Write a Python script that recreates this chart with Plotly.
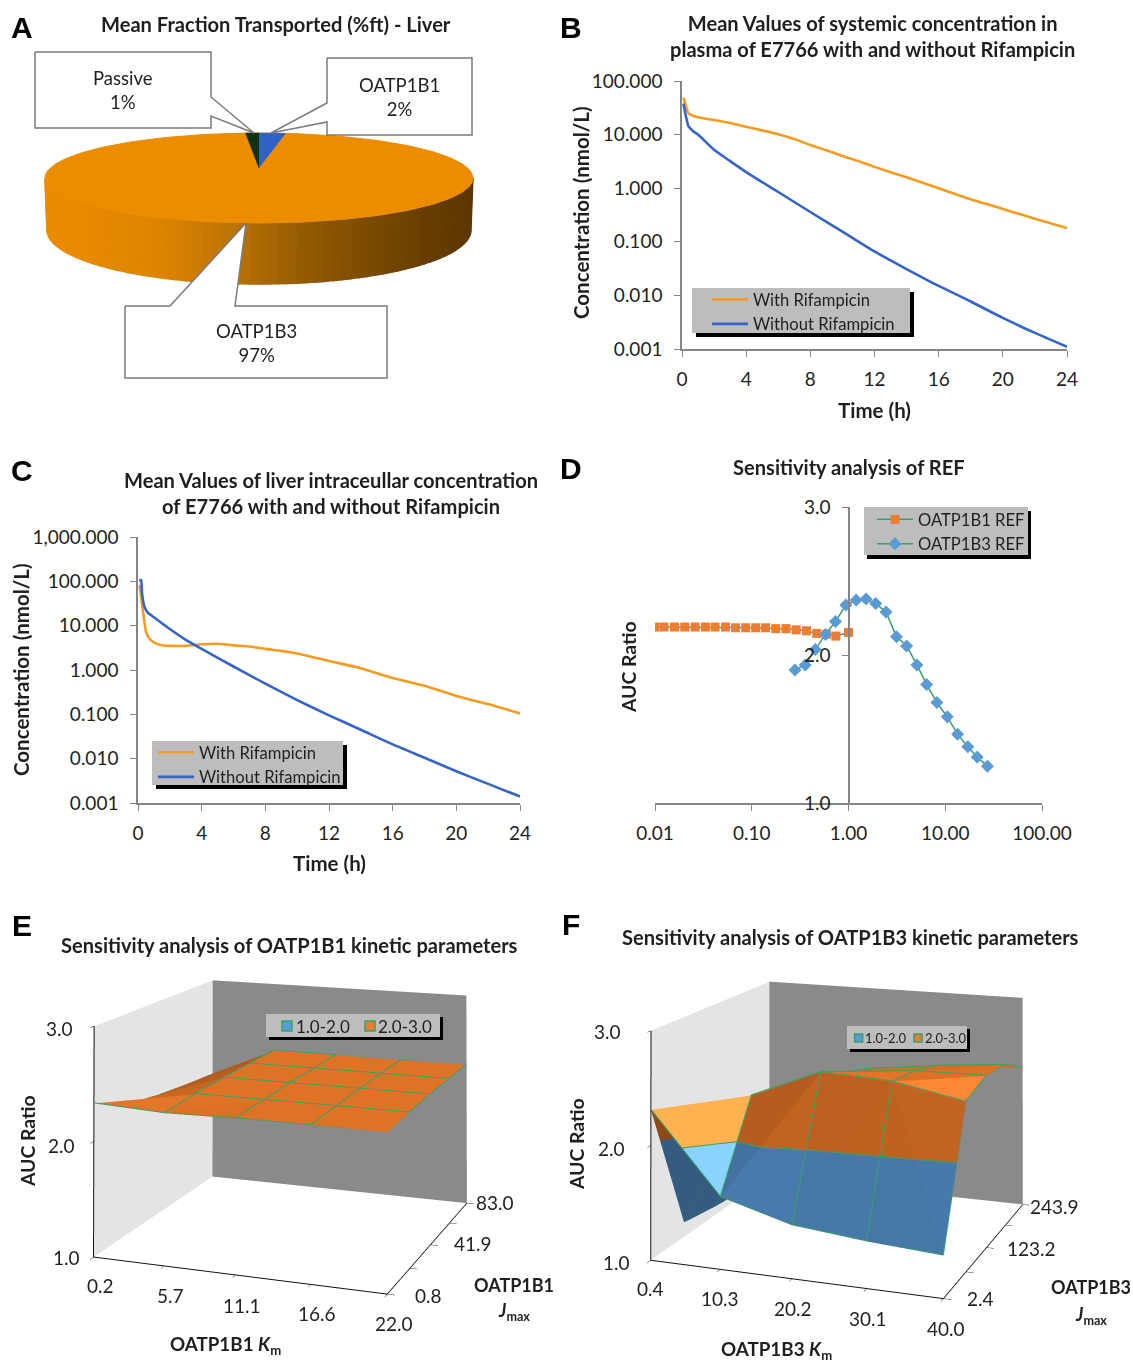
import numpy as np
import plotly.graph_objects as go

W, H = 1133, 1360
FONT = "Lato"
INK = "#1f1f1f"
AXC = "#858585"
ORANGE = "#f79a1e"
BLUE = "#3565c9"
GREEN = "#35a26a"

# ---------- data ----------
pie_labels = ["OATP1B1", "OATP1B3", "Passive"]
pie_values = [2, 97, 1]

b_t_with = [0.1, 0.2, 0.4, 0.7, 1, 2, 3, 4, 5, 6, 7, 8, 9, 10, 11, 12, 14, 16, 18, 20, 22, 24]
b_with = [49, 38, 25, 22.5, 21, 18.7, 16.5, 14, 12, 10.2, 8.3, 6.4, 5.1, 4, 3.2, 2.5, 1.6, 1.0, 0.62, 0.41, 0.27, 0.18]
b_t_without = [0.1, 0.15, 0.25, 0.4, 0.7, 1, 2, 3, 4, 6, 8, 10, 12, 14, 16, 18, 20, 22, 24]
b_without = [38, 30, 21.6, 14.4, 11.6, 10, 5.2, 3.2, 2.0, 0.85, 0.36, 0.155, 0.066, 0.031, 0.015, 0.0077, 0.0038, 0.002, 0.0011]

c_t_with = [0.05, 0.1, 0.3, 0.5, 0.7, 1, 1.5, 2, 3, 4, 5, 6, 7, 8, 9, 10, 12, 14, 16, 18, 20, 22, 24]
c_with = [80, 78, 23, 7.4, 5.2, 4.2, 3.6, 3.5, 3.5, 3.8, 3.9, 3.6, 3.4, 3.0, 2.7, 2.35, 1.6, 1.1, 0.66, 0.44, 0.26, 0.17, 0.105]
c_t_without = [0.1, 0.2, 0.25, 0.4, 0.6, 1, 2, 3, 4, 6, 8, 10, 12, 14, 16, 18, 20, 22, 24]
c_without = [100, 108, 55, 27, 20, 15.5, 8.4, 4.8, 3.0, 1.2, 0.49, 0.21, 0.095, 0.045, 0.021, 0.0105, 0.0052, 0.0027, 0.0014]

d_x_1b1 = [0.010, 0.0124, 0.0159, 0.0203, 0.026, 0.0332, 0.0418, 0.0535, 0.0678, 0.0866, 0.110, 0.139, 0.177, 0.226, 0.288, 0.368, 0.47, 0.59, 0.74, 1.0]
d_y_1b1 = [2.189, 2.189, 2.189, 2.189, 2.189, 2.189, 2.189, 2.189, 2.184, 2.184, 2.184, 2.184, 2.178, 2.178, 2.17, 2.164, 2.146, 2.14, 2.128, 2.153]
d_x_1b3 = [0.28, 0.357, 0.453, 0.579, 0.734, 0.94, 1.2, 1.52, 1.91, 2.44, 3.13, 3.99, 5.1, 6.42, 8.2, 10.5, 13.4, 17.1, 21.4, 27.3]
d_y_1b3 = [1.899, 1.933, 2.038, 2.139, 2.227, 2.337, 2.371, 2.378, 2.348, 2.29, 2.124, 2.061, 1.933, 1.8, 1.679, 1.582, 1.465, 1.38, 1.31, 1.249]

e_km = [0.2, 5.7, 11.1, 16.6, 22.0]
e_jmax = [0.8, 21.4, 41.9, 62.5, 83.0]
e_z = [[2.33, 2.30, 2.31, 2.31, 2.31],
       [2.18, 2.32, 2.32, 2.32, 2.32],
       [2.12, 2.33, 2.33, 2.33, 2.33],
       [2.08, 2.33, 2.33, 2.33, 2.33],
       [2.05, 2.33, 2.33, 2.33, 2.33]]

f_km = [0.4, 10.3, 20.2, 30.1, 40.0]
f_jmax = [2.4, 63.0, 123.2, 183.5, 243.9]
f_z = [[2.31, 1.62, 1.45, 1.39, 1.35],
       [1.13, 2.34, 2.60, 2.57, 2.45],
       [1.08, 2.20, 2.46, 2.52, 2.53],
       [1.05, 2.20, 2.35, 2.43, 2.49],
       [1.05, 2.10, 2.19, 2.28, 2.32]]


# ---------- helpers ----------
def px(x):
    return x / W


def py(y):
    return 1 - y / H


def dom_x(a, b):
    return [a / W, b / W]


def dom_y(top, bottom):
    return [1 - bottom / H, 1 - top / H]


annotations = []


def text(s, x, y, size=18.5, bold=False, angle=0, family=FONT, color=INK):
    if bold:
        s = "<b>" + s.replace("<br>", "</b><br><b>") + "</b>"
    annotations.append(dict(text=s, x=px(x), y=py(y), xref="paper", yref="paper", showarrow=False,
                            xanchor="center", yanchor="middle", textangle=angle,
                            font=dict(family=family, size=size, color=color)))


shapes = []


def legend_box(x0, y0, x1, y1, dx=4, dy=4):
    shapes.append(dict(type="rect", xref="paper", yref="paper", x0=px(x0 + dx), x1=px(x1 + dx), y0=py(y0 + dy), y1=py(y1 + dy),
                       fillcolor="#000", line_width=0, layer="above"))
    shapes.append(dict(type="rect", xref="paper", yref="paper", x0=px(x0), x1=px(x1), y0=py(y0), y1=py(y1),
                       fillcolor="#bdbdbd", line_width=0, layer="above"))


def swatch(x, y, color, s=5):
    shapes.append(dict(type="rect", xref="paper", yref="paper", x0=px(x - s), x1=px(x + s), y0=py(y - s), y1=py(y + s),
                       fillcolor=color, line=dict(color=GREEN, width=1.5), layer="above"))


fig = go.Figure()

# ---------- A: pie drawn on a hidden pixel-scale axis ----------
CX, CY, RX, RY = 259, 178, 214, 45
AX_, AY_ = 259, 168
CX2, CY2, RX2, RY2 = 259, 230, 212, 54
stops_x = [45, 82, 160, 230, 300, 400, 473]
stops_c = [(234, 139, 0), (234, 139, 0), (222, 132, 0), (190, 117, 6), (150, 92, 3), (112, 68, 0), (92, 55, 0)]


def side_color(x):
    return "rgb(%d,%d,%d)" % tuple(np.interp(x, stops_x, [c[k] for c in stops_c]) for k in range(3))


side_angles = np.linspace(0, np.pi, 71)
for a0, a1 in zip(side_angles[:-1], side_angles[1:]):
    xs = [CX + RX * np.cos(a0), CX + RX * np.cos(a1), CX2 + RX2 * np.cos(a1), CX2 + RX2 * np.cos(a0)]
    ys = [CY + RY * np.sin(a0), CY + RY * np.sin(a1), CY2 + RY2 * np.sin(a1), CY2 + RY2 * np.sin(a0)]
    col = side_color(sum(xs) / 4)
    fig.add_trace(go.Scatter(x=xs, y=ys, fill="toself", fillcolor=col, mode="lines", line=dict(color=col, width=1.6),
                             hoverinfo="skip", showlegend=False))
th = np.linspace(0, 2 * np.pi, 241)
fig.add_trace(go.Scatter(x=CX + RX * np.cos(th), y=CY + RY * np.sin(th), fill="toself", fillcolor="#ec8d00", mode="lines",
                         line=dict(color="#ec8d00", width=1), hoverinfo="skip", showlegend=False))
pie_colors = {"OATP1B1": "#2f62c4", "Passive": "#0d3312"}
start = 0.0
for name, val in zip(pie_labels, pie_values):
    end = start + val / sum(pie_values) * 2 * np.pi
    if name in pie_colors:
        t = np.linspace(start, end, 12)
        fig.add_trace(go.Scatter(x=np.r_[AX_, CX + RX * np.sin(t)], y=np.r_[AY_, CY - RY * np.cos(t)], fill="toself",
                                 fillcolor=pie_colors[name], mode="lines", line=dict(color=pie_colors[name], width=0.5),
                                 hoverinfo="skip", showlegend=False))
    start = end

callouts = [
    ([35, 211, 211, 254, 211, 211, 35, 35], [52, 52, 97, 133, 116, 128, 128, 52]),
    ([327, 472, 472, 327, 327, 271, 327, 327], [58, 58, 135, 135, 122, 133, 103, 58]),
    ([125, 170, 246, 235, 387, 387, 125, 125], [306, 306, 223, 306, 306, 378, 378, 306]),
]
for xs, ys in callouts:
    fig.add_trace(go.Scatter(x=xs, y=ys, fill="toself", fillcolor="white", mode="lines", line=dict(color="#7b7b7b", width=1.5),
                             hoverinfo="skip", showlegend=False))
text("Passive<br>1%", 123, 90)
text("OATP1B1<br>2%", 399, 97)
text("OATP1B3<br>97%", 256, 343)

# ---------- B, C, D ----------
LW = 2.6


def curve(color):
    return dict(color=color, width=LW, shape="spline", smoothing=0.5)


fig.add_trace(go.Scatter(x=b_t_with, y=b_with, name="With Rifampicin", mode="lines", line=curve(ORANGE),
                         xaxis="x2", yaxis="y2", legend="legend"))
fig.add_trace(go.Scatter(x=b_t_without, y=b_without, name="Without Rifampicin", mode="lines", line=curve(BLUE),
                         xaxis="x2", yaxis="y2", legend="legend"))
fig.add_trace(go.Scatter(x=c_t_with, y=c_with, name="With Rifampicin", mode="lines", line=curve(ORANGE),
                         xaxis="x3", yaxis="y3", legend="legend2"))
fig.add_trace(go.Scatter(x=c_t_without, y=c_without, name="Without Rifampicin", mode="lines", line=curve(BLUE),
                         xaxis="x3", yaxis="y3", legend="legend2"))
fig.add_trace(go.Scatter(x=d_x_1b1, y=d_y_1b1, name="OATP1B1 REF", mode="lines+markers", line=dict(color=GREEN, width=1.5),
                         marker=dict(symbol="square", size=9, color="#ed7d31"), xaxis="x4", yaxis="y4", legend="legend3"))
fig.add_trace(go.Scatter(x=d_x_1b3, y=d_y_1b3, name="OATP1B3 REF", mode="lines+markers", line=dict(color=GREEN, width=1.5),
                         marker=dict(symbol="diamond", size=10, color="#5b9bd5"), xaxis="x4", yaxis="y4", legend="legend3"))

legend_box(692, 288, 910, 333)
legend_box(152, 741, 343, 785)
legend_box(864, 507, 1028, 555, 3, 4)


# ---------- E, F ----------
def clip_tri(pts, level):
    """split a triangle at z=level; returns polygons below, above and the crossing segment"""
    below, above, cross = [], [], []
    n = len(pts)
    for a in range(n):
        p, q = pts[a], pts[(a + 1) % n]
        (below if p[2] <= level else above).append(p)
        if (p[2] - level) * (q[2] - level) < 0:
            s = (level - p[2]) / (q[2] - p[2])
            c = tuple(p[m] + s * (q[m] - p[m]) for m in range(3))
            below.append(c)
            above.append(c)
            cross.append(c)
    return below, above, cross


BASE_O = np.array([221, 114, 38.0])
BASE_B = np.array([82, 140, 195.0])


def shade(tri, base, sx, sy, sz):
    a, b, c = [np.array(p) * [sx, sy, sz] for p in tri]
    n = np.cross(b - a, c - a)
    if n[2] < 0:
        n = -n
    n = n / (np.linalg.norm(n) + 1e-9)
    f = float(np.interp(n[0], [-0.7, -0.31, 0.14, 0.33, 0.66], [0.65, 0.8, 0.88, 0.97, 1.3]))
    f += 0.15 * max(n[2] - 0.3, 0) / 0.7
    col = base * f
    if f > 1:
        col = col + (f - 1) * 100
    return "rgb(%d,%d,%d)" % tuple(np.clip(col, 0, 255))


def add_surface(kms, js, zs, scene, anti=(), skip_first_col=False):
    xi = np.arange(len(kms))
    sx = 1 / (kms[-1] - kms[0])
    sy = 1 / (js[-1] - js[0])
    vx, vy, vz, I, J, K, cols = [], [], [], [], [], [], []
    lx, ly, lz = [], [], []

    def seg(pts):
        for p in pts:
            lx.append(p[0]); ly.append(p[1]); lz.append(p[2] + 0.006)
        lx.append(None); ly.append(None); lz.append(None)

    def add_poly(poly, tri, base):
        if len(poly) < 3:
            return
        col = shade(tri, base, sx, sy, 0.75)
        i0 = len(vx)
        for p in poly:
            vx.append(p[0]); vy.append(p[1]); vz.append(p[2])
        for m in range(1, len(poly) - 1):
            I.append(i0); J.append(i0 + m); K.append(i0 + m + 1); cols.append(col)

    for r in range(len(js) - 1):
        for c in range(len(kms) - 1):
            p00 = (kms[c], js[r], zs[r][c])
            p10 = (kms[c + 1], js[r], zs[r][c + 1])
            p01 = (kms[c], js[r + 1], zs[r + 1][c])
            p11 = (kms[c + 1], js[r + 1], zs[r + 1][c + 1])
            tris = [(p00, p10, p01), (p10, p11, p01)] if (c, r) in anti else [(p00, p10, p11), (p00, p11, p01)]
            for tri in tris:
                lo, hi, cross = clip_tri(list(tri), 2.0)
                add_poly(lo, tri, BASE_B)
                add_poly(hi, tri, BASE_O)
                if len(cross) == 2:
                    seg(cross)
    for r in range(len(js)):
        first = 1 if (skip_first_col and r > 0) else 0
        seg([(kms[c], js[r], zs[r][c]) for c in xi[first:]])
    for c in xi[1 if skip_first_col else 0:]:
        seg([(kms[c], js[r], zs[r][c]) for r in range(len(js))])
    fig.add_trace(go.Mesh3d(x=vx, y=vy, z=vz, i=I, j=J, k=K, facecolor=cols, flatshading=True, scene=scene,
                            lighting=dict(ambient=1, diffuse=0, specular=0, fresnel=0, roughness=1), showscale=False, hoverinfo="skip"))
    fig.add_trace(go.Scatter3d(x=lx, y=ly, z=lz, mode="lines", line=dict(color=GREEN, width=2), scene=scene, showlegend=False,
                               hoverinfo="skip"))


add_surface(e_km, e_jmax, e_z, "scene", skip_first_col=True)
add_surface(f_km, f_jmax, f_z, "scene2", anti={(3, 0)})


def scene_cfg(kms, js, dom, eye, center):
    ax = dict(showgrid=False, zeroline=False, showspikes=False, showline=True, linecolor="#111", linewidth=2, ticks="outside",
              ticklen=6, tickcolor="#111", showticklabels=False, title=dict(text=""), showbackground=True)
    return dict(domain=dict(x=dom, y=[0, 1]), aspectmode="manual", aspectratio=dict(x=0.8, y=0.8, z=0.6),
                camera=dict(eye=eye, center=center, up=dict(x=0, y=0, z=1), projection=dict(type="perspective")),
                xaxis=dict(ax, range=[kms[0], kms[-1]], tickvals=kms, backgroundcolor="#e4e4e4"),
                yaxis=dict(ax, range=[js[0], js[-1]], tickvals=js, backgroundcolor="#8a8a8a"),
                zaxis=dict(ax, range=[1, 3], tickvals=[1, 2, 3], backgroundcolor="#ffffff"))


# ---------- 3D tick labels ----------
TK = 19
for s, x, y in [("3.0", 59, 1028), ("2.0", 61, 1145), ("1.0", 66, 1257)]:
    text(s, x, y, TK)
for v, x, y in zip(e_km, [100, 170, 242, 317, 394], [1285, 1295, 1305, 1313, 1323]):
    text("%.1f" % v, x, y, TK)
for v, x, y in zip([e_jmax[0], e_jmax[2], e_jmax[4]], [428, 473, 495], [1295, 1243, 1202]):
    text("%.1f" % v, x, y, TK)
for s, x, y in [("3.0", 607, 1031), ("2.0", 611, 1148), ("1.0", 616, 1262)]:
    text(s, x, y, TK)
for v, x, y in zip(f_km, [650, 720, 793, 868, 946], [1288, 1298, 1308, 1318, 1328]):
    text("%.1f" % v, x, y, TK)
for v, x, y in zip([f_jmax[0], f_jmax[2], f_jmax[4]], [980, 1031, 1054], [1298, 1248, 1206]):
    text("%.1f" % v, x, y, TK)

# ---------- E/F legends ----------
legend_box(266, 1014, 440, 1037, 3, 3)
swatch(287, 1026, "#5b9bd5"); swatch(370, 1026, "#ed7d31")
text("1.0-2.0", 323, 1026, 17); text("2.0-3.0", 405, 1026, 17)
legend_box(847, 1026, 967, 1049, 3, 3)
swatch(858.6, 1038, "#5b9bd5", 4); swatch(918, 1038, "#ed7d31", 4)
text("1.0-2.0", 886, 1038, 13); text("2.0-3.0", 945.6, 1038, 13)

# ---------- titles ----------
T = 20.1
A = 20.5
LET = 30
for s, x, y in [("A", 22, 27), ("B", 571, 27), ("C", 22, 470), ("D", 571, 468), ("E", 22, 925), ("F", 571, 924)]:
    text(s, x, y, LET, True, family="Liberation Sans", color="#000")
text("Mean Fraction Transported (%ft) - Liver", 276, 24, T, True)
text("Mean Values of systemic concentration in<br>plasma of E7766 with and without Rifampicin", 872, 36, T, True)
text("Mean Values of liver intraceullar concentration<br>of E7766 with and without Rifampicin", 331, 493, T, True)
text("Sensitivity analysis of REF", 849, 467, T, True)
text("Sensitivity analysis of OATP1B1 kinetic parameters", 289, 945, T, True)
text("Sensitivity analysis of OATP1B3 kinetic parameters", 850, 937, T, True)
text("Concentration (nmol/L)", 581, 213, A, True, -90)
text("Time (h)", 874, 410, A, True)
text("Concentration (nmol/L)", 21, 670, A, True, -90)
text("Time (h)", 329, 863, A, True)
text("AUC Ratio", 628, 667, 19.4, True, -90)
text("AUC Ratio", 27, 1141, 19.4, True, -90)
text("OATP1B1 <i>K</i><sub>m</sub>", 225, 1345, 18.8, True)
text("OATP1B1", 514, 1285, 18, True)
text("<i>J</i><sub>max</sub>", 514, 1311, 18, True)
text("AUC Ratio", 576, 1144, 19.4, True, -90)
text("OATP1B3 <i>K</i><sub>m</sub>", 776, 1350, 18.8, True)
text("OATP1B3", 1091, 1287, 18, True)
text("<i>J</i><sub>max</sub>", 1091, 1315, 18, True)

tick = dict(family=FONT, size=19, color=INK)
acfg = dict(showgrid=False, zeroline=False, showline=True, linecolor=AXC, linewidth=1.5, ticks="outside", ticklen=6,
            tickcolor=AXC, tickfont=tick, automargin=False)
xcfg = dict(acfg, ticklabelstandoff=6)
ycfg = dict(acfg, ticklabelstandoff=8)


def leg(x, y):
    return dict(x=px(x), y=py(y), xanchor="left", yanchor="top", bgcolor="rgba(0,0,0,0)", borderwidth=0,
                font=dict(family=FONT, size=16.6, color=INK), itemwidth=36, tracegroupgap=0, traceorder="normal")


fig.update_layout(
    template="none",
    width=W, height=H, autosize=False, margin=dict(l=0, r=0, t=0, b=0), paper_bgcolor="white", plot_bgcolor="rgba(0,0,0,0)",
    showlegend=True, annotations=annotations, shapes=shapes,
    xaxis=dict(domain=[0, 1], range=[0, W], visible=False, automargin=False),
    yaxis=dict(domain=[0, 1], range=[H, 0], visible=False, automargin=False),
    xaxis2=dict(xcfg, domain=dom_x(682, 1067), range=[0, 24], dtick=4, anchor="y2"),
    yaxis2=dict(ycfg, domain=dom_y(81, 349), type="log", range=[-3, 2], dtick=1, tickformat=".3f", anchor="x2"),
    xaxis3=dict(xcfg, domain=dom_x(138, 520), range=[0, 24], dtick=4, anchor="y3"),
    yaxis3=dict(ycfg, domain=dom_y(537, 803), type="log", range=[-3, 3], dtick=1, tickformat=",.3f", anchor="x3"),
    xaxis4=dict(xcfg, domain=dom_x(655, 1042), type="log", range=[-2, 2], dtick=1, tickformat=".2f", anchor="y4"),
    yaxis4=dict(ycfg, domain=dom_y(507, 803), range=[1, 3], dtick=1, tickformat=".1f", anchor="free", position=849 / W),
    legend=leg(707, 282), legend2=leg(153, 735), legend3=leg(872, 502),
    scene=scene_cfg(e_km, e_jmax, dom_x(7, 573), dict(x=1.57, y=-4.28, z=1.11), dict(x=0, y=0, z=1.213)),
    scene2=scene_cfg(f_km, f_jmax, dom_x(563, 1130), dict(x=1.57, y=-4.28, z=1.17), dict(x=0, y=0, z=1.224)),
)
fig.write_html("out.html", post_script="document.body.style.margin='0';", config={"displayModeBar": False})
